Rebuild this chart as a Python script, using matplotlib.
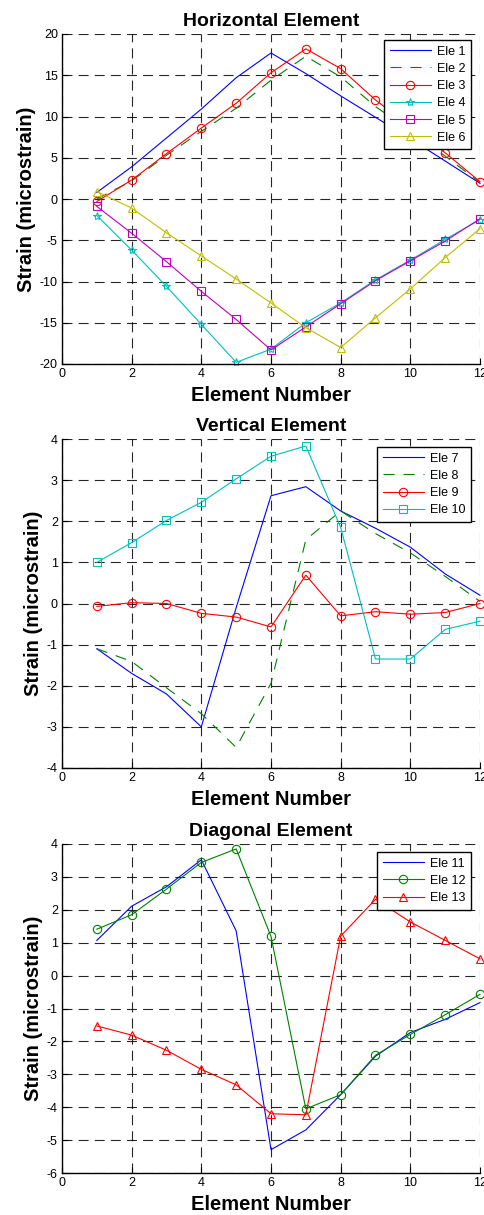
import matplotlib
matplotlib.use("Agg")
import matplotlib.pyplot as plt

plt.rcParams['font.family'] = ['Liberation Sans', 'DejaVu Sans']
plt.rcParams['axes.unicode_minus'] = False

x = list(range(1, 13))

# Horizontal elements
ele1 = [0.8, 3.9, 7.4, 10.9, 14.7, 17.7, 15.2, 12.5, 9.9, 7.3, 4.6, 1.9]
ele2 = [0.0, 2.2, 5.3, 8.2, 11.0, 14.4, 17.3, 14.8, 11.2, 8.3, 5.2, 2.0]
ele3 = [-0.3, 2.3, 5.5, 8.6, 11.6, 15.3, 18.2, 15.8, 12.0, 8.8, 5.6, 2.1]
ele4 = [-2.0, -6.2, -10.6, -15.2, -19.8, -18.2, -15.0, -12.6, -9.8, -7.4, -4.9, -2.5]
ele5 = [-0.9, -4.15, -7.6, -11.2, -14.6, -18.3, -15.5, -12.7, -9.9, -7.5, -5.1, -2.4]
ele6 = [0.9, -1.1, -4.1, -6.9, -9.7, -12.6, -15.6, -18.0, -14.4, -10.9, -7.1, -3.6]

# Vertical elements
ele7 = [-1.1, -1.7, -2.2, -3.0, -0.1, 2.62, 2.84, 2.25, 1.83, 1.37, 0.72, 0.2]
ele8 = [-1.1, -1.41, -2.05, -2.68, -3.5, -1.94, 1.55, 2.25, 1.7, 1.23, 0.66, 0.05]
ele9 = [-0.07, 0.02, 0.0, -0.24, -0.33, -0.57, 0.69, -0.3, -0.2, -0.26, -0.22, 0.0]
ele10 = [1.0, 1.48, 2.02, 2.46, 3.03, 3.58, 3.83, 1.85, -1.35, -1.35, -0.63, -0.43]

# Diagonal elements
ele11 = [1.07, 2.11, 2.7, 3.52, 1.36, -5.29, -4.69, -3.62, -2.45, -1.73, -1.33, -0.82]
ele12 = [1.41, 1.85, 2.63, 3.44, 3.85, 1.19, -4.05, -3.62, -2.42, -1.79, -1.19, -0.57]
ele13 = [-1.53, -1.81, -2.27, -2.85, -3.32, -4.2, -4.23, 1.2, 2.32, 1.63, 1.07, 0.51]

xticks = [0, 2, 4, 6, 8, 10, 12]
yticks1 = list(range(-20, 21, 5))
yticks2 = list(range(-4, 5, 1))
yticks3 = list(range(-6, 5, 1))

titles = ["Horizontal Element", "Vertical Element", "Diagonal Element"]
xlabel = "Element Number"
ylabel = "Strain (microstrain)"

C_B = (0, 0, 1)
C_G = (0, 0.5, 0)
C_R = (1, 0, 0)
C_C = (0, 0.75, 0.75)
C_M = (0.75, 0, 0.75)
C_Y = (0.75, 0.75, 0)

W, H = 484, 1215
fig = plt.figure(figsize=(W / 100, H / 100), dpi=100)

def make_ax(top_px, bot_px):
    left, right = 62, 480
    return fig.add_axes([left / W, 1 - bot_px / H, (right - left) / W, (bot_px - top_px) / H])

axes = [make_ax(34, 364), make_ax(439, 768), make_ax(844, 1173)]

lw = 0.8
ms = 6
dash_g = (0, (10, 8))

def style(ax, yticks, title):
    ax.set_xlim(0, 12)
    ax.set_ylim(yticks[0], yticks[-1])
    ax.set_xticks(xticks)
    ax.set_yticks(yticks)
    ax.grid(True, color='k', linestyle=(0, (9, 5.5)), linewidth=0.8, alpha=0.85)
    ax.set_axisbelow(True)
    for s in ['top', 'right']:
        ax.spines[s].set_visible(False)
    for s in ['left', 'bottom']:
        ax.spines[s].set_linewidth(1.0)
    ax.tick_params(direction='in', length=4, width=0.8, labelsize=9)
    ax.tick_params(axis='y', pad=3)
    ax.tick_params(axis='x', pad=3)
    ax.set_title(title, fontsize=14, fontweight='bold', pad=6)
    ax.set_xlabel(xlabel, fontsize=14.5, fontweight='bold', labelpad=4)
    ax.set_ylabel(ylabel, fontsize=14.5, fontweight='bold', labelpad=3)

def leg(ax, anchor):
    lg = ax.legend(loc='upper right', bbox_to_anchor=anchor, borderaxespad=0,
                   fontsize=9, fancybox=False, framealpha=1, edgecolor='k',
                   handlelength=3.3, labelspacing=0.42, borderpad=0.45,
                   handletextpad=0.45)
    lg.get_frame().set_linewidth(1.0)

mk = dict(markersize=ms, markerfacecolor='none', markeredgewidth=0.8, clip_on=False)

ax = axes[0]
ax.plot(x, ele1, color=C_B, lw=lw, label='Ele 1', clip_on=False)
ax.plot(x, ele2, color=C_G, lw=lw, linestyle=dash_g, label='Ele 2', clip_on=False)
ax.plot(x, ele3, color=C_R, lw=lw, marker='o', label='Ele 3', **mk)
ax.plot(x, ele4, color=C_C, lw=lw, marker='*', label='Ele 4', **mk)
ax.plot(x, ele5, color=C_M, lw=lw, marker='s', label='Ele 5', **mk)
ax.plot(x, ele6, color=C_Y, lw=lw, marker='^', label='Ele 6', **mk)
style(ax, yticks1, titles[0])
leg(ax, (0.978, 0.982))

ax = axes[1]
ax.plot(x, ele7, color=C_B, lw=lw, label='Ele 7', clip_on=False)
ax.plot(x, ele8, color=C_G, lw=lw, linestyle=dash_g, label='Ele 8', clip_on=False)
ax.plot(x, ele9, color=C_R, lw=lw, marker='o', label='Ele 9', **mk)
ax.plot(x, ele10, color=C_C, lw=lw, marker='s', label='Ele 10', **mk)
style(ax, yticks2, titles[1])
leg(ax, (0.978, 0.976))

ax = axes[2]
ax.plot(x, ele11, color=C_B, lw=lw, label='Ele 11', clip_on=False)
ax.plot(x, ele12, color=C_G, lw=lw, marker='o', label='Ele 12', **mk)
ax.plot(x, ele13, color=C_R, lw=lw, marker='^', label='Ele 13', **mk)
style(ax, yticks3, titles[2])
leg(ax, (0.978, 0.976))

fig.savefig("out.png", dpi=100)
